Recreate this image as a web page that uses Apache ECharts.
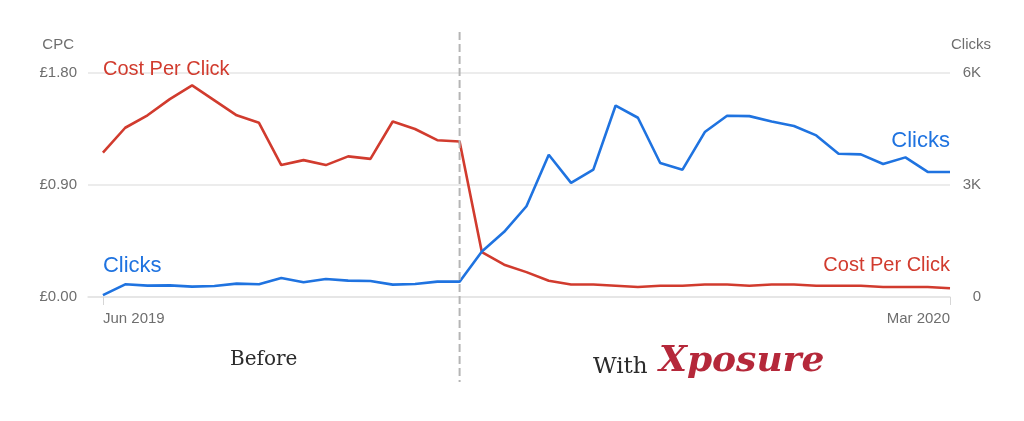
<!DOCTYPE html>
<html>
<head>
<meta charset="utf-8">
<script src="https://cdn.jsdelivr.net/npm/echarts@6/dist/echarts.min.js"></script>
<style>
html,body{margin:0;padding:0;background:#fff;}
#chart{width:1024px;height:421px;}
</style>
</head>
<body>
<div id="chart"></div>
<script>
// Weekly data, Jun 2019 .. Mar 2020
const tickLabels = ['Jun 2019', 'Mar 2020'];
const tickIndexes = [0, 38];
const cpc = [1.16,1.36,1.46,1.59,1.70,1.58,1.46,1.40,1.06,1.10,1.06,1.13,1.11,1.41,1.35,1.26,1.25,
             0.36,0.26,0.20,0.13,0.10,0.10,0.09,0.08,0.09,0.09,0.10,0.10,0.09,0.10,0.10,0.09,0.09,0.09,0.08,0.08,0.08,0.07];
const clicks = [50,340,305,312,278,294,358,340,508,393,481,438,427,331,347,411,411,
                1221,1747,2431,3812,3056,3411,5129,4801,3590,3411,4418,4854,4845,4702,4579,4328,3839,3820,3564,3740,3350,3350];
const dividerIndex = 16;
const cpcTicks = [0, 0.9, 1.8];
const clickTicks = [0, 3000, 6000];

const RED = '#d13b2e';
const BLUE = '#1f73e0';
const GREY = '#6e6e6e';
const FONT = '"Liberation Sans", Arial, sans-serif';

const chart = echarts.init(document.getElementById('chart'), null, {renderer: 'canvas'});

const option = {
  animation: false,
  backgroundColor: '#fff',
  grid: {left: 88, right: 74, top: 73, bottom: 124},
  xAxis: {
    type: 'value',
    min: -0.67,
    max: tickIndexes[1],
    splitLine: {show: false},
    axisLine: {show: true, lineStyle: {color: '#e3e3e3', width: 1.5}},
    axisTick: {show: true, customValues: tickIndexes, length: 8, lineStyle: {color: '#d6d6d6', width: 1}},
    axisLabel: {
      show: true,
      customValues: tickIndexes,
      formatter: function (v) { return tickLabels[tickIndexes.indexOf(Math.round(v))] || ''; },
      alignMinLabel: 'left',
      alignMaxLabel: 'right',
      margin: 14,
      color: GREY,
      fontSize: 15,
      fontFamily: FONT
    }
  },
  yAxis: [
    {
      type: 'value',
      min: cpcTicks[0], max: cpcTicks[2], interval: cpcTicks[1],
      axisLine: {show: false},
      axisTick: {show: false},
      splitLine: {show: true, lineStyle: {color: '#e6e6e6', width: 1.5}},
      axisLabel: {
        color: GREY, fontSize: 15, fontFamily: FONT, margin: 11,
        formatter: function (v) { return '£' + v.toFixed(2); }
      }
    },
    {
      type: 'value',
      min: clickTicks[0], max: clickTicks[2], interval: clickTicks[1],
      axisLine: {show: false},
      axisTick: {show: false},
      splitLine: {show: false},
      axisLabel: {
        color: GREY, fontSize: 15, fontFamily: FONT, margin: 31, align: 'right',
        formatter: function (v) { return v === 0 ? '0' : (v / 1000) + 'K'; }
      }
    }
  ],
  series: [
    {
      name: 'Cost Per Click',
      type: 'line',
      yAxisIndex: 0,
      data: cpc.map(function (v, i) { return [i, v]; }),
      showSymbol: false,
      symbol: 'none',
      lineStyle: {color: RED, width: 2.6},
      itemStyle: {color: RED},
      z: 3
    },
    {
      name: 'Clicks',
      type: 'line',
      yAxisIndex: 1,
      data: clicks.map(function (v, i) { return [i, v]; }),
      showSymbol: false,
      symbol: 'none',
      lineStyle: {color: BLUE, width: 2.6},
      itemStyle: {color: BLUE},
      z: 4
    }
  ]
};
chart.setOption(option);

const divX = chart.convertToPixel({xAxisIndex: 0}, dividerIndex);
const leftX = chart.convertToPixel({xAxisIndex: 0}, tickIndexes[0]);
const rightX = chart.convertToPixel({xAxisIndex: 0}, tickIndexes[1]);

function txt(x, y, text, fill, font, align) {
  return {
    type: 'text', z: 10, x: x, y: y,
    style: {text: text, fill: fill, font: font, textAlign: align || 'left', textVerticalAlign: 'middle'}
  };
}

chart.setOption({
  graphic: [
    {
      type: 'line', z: 10,
      shape: {x1: divX, y1: 32, x2: divX, y2: 382},
      style: {stroke: '#b5b5b5', lineWidth: 2, lineDash: [8, 4]}
    },
    txt(74, 45, 'CPC', GREY, '15px ' + FONT, 'right'),
    txt(951, 45, 'Clicks', GREY, '15px ' + FONT, 'left'),
    txt(leftX, 69, 'Cost Per Click', RED, '20px ' + FONT),
    txt(leftX, 266, 'Clicks', BLUE, '22px ' + FONT),
    txt(rightX, 141, 'Clicks', BLUE, '22px ' + FONT, 'right'),
    txt(rightX, 265, 'Cost Per Click', RED, '20px ' + FONT, 'right'),
    txt(230, 360, 'Before', '#2b2b2b', '20px "DejaVu Serif", serif'),
    txt(593, 367, 'With', '#2b2b2b', '23px "DejaVu Serif", serif'),
    txt(659, 362, 'Xposure', '#b5283a', 'italic bold 36px "DejaVu Serif", serif')
  ]
});
</script>
</body>
</html>
